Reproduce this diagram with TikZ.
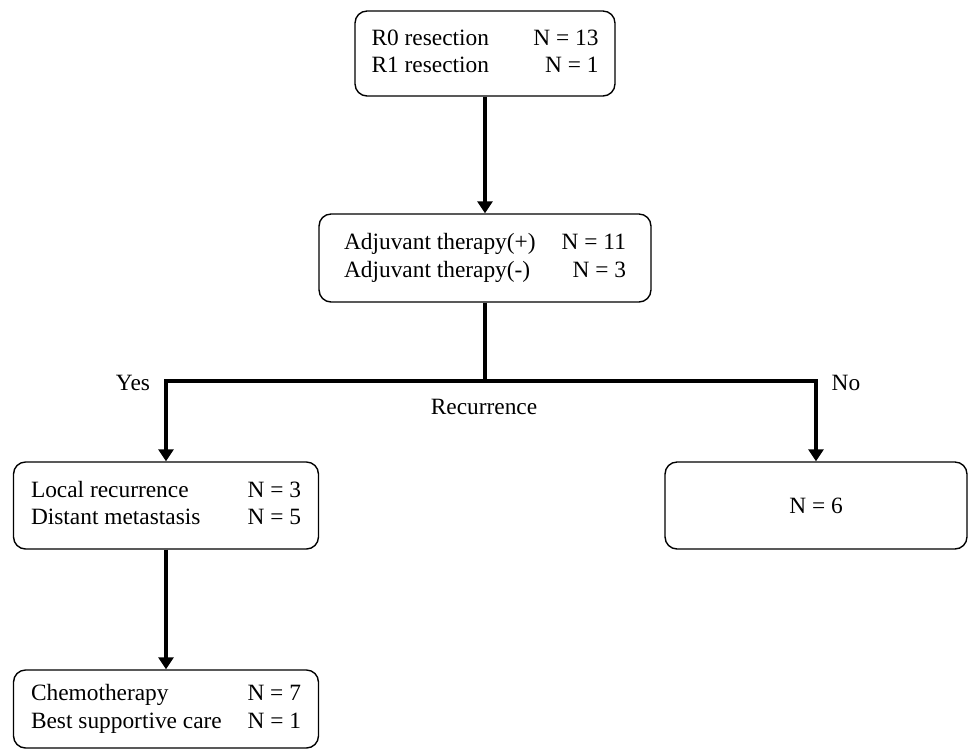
\documentclass[tikz,border=0pt]{standalone}
\usepackage{fontspec}
\setmainfont{Liberation Serif}
\usepackage{tikz}
\usetikzlibrary{arrows.meta,positioning}

\newcommand{\boxrows}[5]{\begin{tabular*}{#1}{@{}l@{\extracolsep{\fill}}r@{}}#2 & #3\\ #4 & #5\end{tabular*}}

\begin{document}
\begin{tikzpicture}[x=0.02cm, y=-0.02cm,
        font=\fontsize{13.3}{15.7}\selectfont,
        flowbox/.style={draw, rounded corners=0.24cm, line width=0.8pt, inner sep=0pt},
        arr/.style={line width=2.6pt, -{Triangle[length=0.24cm, width=0.3cm]}},
        link/.style={line width=2.6pt}]
        \useasboundingbox (0,0) rectangle (968,751);

        \node (resect) [flowbox, minimum width=5.2cm, minimum height=1.7cm] at (485, 53.5)
            {\boxrows{4.54cm}{R0 resection}{N = 13}{R1 resection}{N = 1}};
        \node (adjuv) [flowbox, minimum width=6.64cm, minimum height=1.76cm] at (485, 258)
            {\boxrows{5.64cm}{Adjuvant therapy(+)}{N = 11}{Adjuvant therapy(-)}{N = 3}\hspace{0.34cm}};
        \node (relapse) [flowbox, minimum width=6.1cm, minimum height=1.74cm] at (166, 505.5)
            {\boxrows{5.4cm}{Local recurrence}{N = 3}{Distant metastasis}{N = 5}};
        \node (norelapse) [flowbox, minimum width=6.04cm, minimum height=1.74cm] at (816, 505.5) {N = 6};
        \node (treat) [flowbox, minimum width=6.1cm, minimum height=1.56cm] at (166, 709)
            {\boxrows{5.4cm}{Chemotherapy}{N = 7}{Best supportive care}{N = 1}};

        \coordinate (fork) at (485, 381);
        \node (yes) at (133, 383) {Yes};
        \node (no) at (846, 383) {No};
        \node (recur) at (484, 407) {Recurrence};

        \draw[arr] (resect) -- (adjuv);
        \draw[link] (adjuv) -- (fork);
        \draw[arr] (fork) -| (relapse);
        \draw[arr] (fork) -| (norelapse);
        \draw[arr] (relapse) -- (treat);
    \end{tikzpicture}
\end{document}
